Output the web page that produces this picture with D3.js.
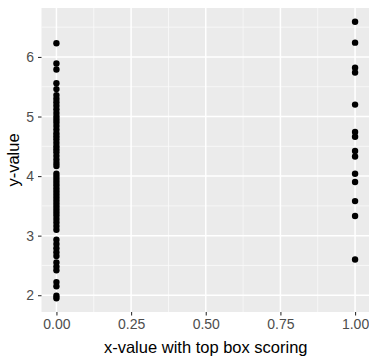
<!DOCTYPE html>
<html>
<head>
<meta charset="utf-8">
<script src="https://cdn.jsdelivr.net/npm/d3@7"></script>
<style>
	html, body { margin: 0; padding: 0; background: #fff; overflow: hidden; }
	svg { display: block; font-family: "Liberation Sans", Arial, sans-serif; }
</style>
</head>
<body>
<svg id="chart" width="369" height="360"></svg>
<script>

// values at x = 0 (they overlap into a bar)
var groupZero = [
	6.23, 5.89, 5.79, 5.56, 5.46, 5.36, 5.30, 5.24, 5.18, 5.12, 5.06, 5.00,
	4.95, 4.90, 4.84, 4.78, 4.72, 4.67, 4.62, 4.56, 4.50, 4.45, 4.40, 4.34,
	4.28, 4.22, 4.17, 4.04, 3.99, 3.94, 3.89, 3.84, 3.79, 3.74, 3.69, 3.64,
	3.59, 3.54, 3.49, 3.44, 3.39, 3.34, 3.28, 3.22, 3.16, 3.10, 2.93, 2.86,
	2.79, 2.72, 2.66, 2.55, 2.48, 2.42, 2.22, 2.15, 1.99, 1.95
];

// values at x = 1
var groupOne = [
	6.59, 6.24, 5.82, 5.74, 5.20, 4.74, 4.66, 4.42, 4.33, 4.04, 3.90, 3.58,
	3.33, 2.60
];

var xTicks = [0, 0.25, 0.5, 0.75, 1];
var yTicks = [2, 3, 4, 5, 6];

var xTitle = 'x-value with top box scoring';
var yTitle = 'y-value';

var config = {
	panel: {left: 41.5, top: 8, right: 370, bottom: 312},
	radius: 3.2,
	expand: 0.05
};

var points = [];
groupZero.forEach(function(v){ points.push({x: 0, y: v}); });
groupOne.forEach(function(v){ points.push({x: 1, y: v}); });

var xExt = d3.extent(points, function(d){ return d.x; }),
	yExt = d3.extent(points, function(d){ return d.y; }),
	xPad = (xExt[1] - xExt[0]) * config.expand,
	yPad = (yExt[1] - yExt[0]) * config.expand;

var x = d3.scaleLinear()
	.domain([xExt[0] - xPad, xExt[1] + xPad])
	.range([config.panel.left, config.panel.right]);

var y = d3.scaleLinear()
	.domain([yExt[0] - yPad, yExt[1] + yPad])
	.range([config.panel.bottom, config.panel.top]);

var svg = d3.select('#chart');

svg.append('rect')
	.attr('x', config.panel.left)
	.attr('y', config.panel.top)
	.attr('width', config.panel.right - config.panel.left)
	.attr('height', config.panel.bottom - config.panel.top)
	.attr('fill', '#ebebeb');

// minor grid halfway between breaks
var xMinor = d3.pairs(xTicks).map(function(p){ return (p[0] + p[1]) / 2; }),
	yMinor = d3.pairs(yTicks).map(function(p){ return (p[0] + p[1]) / 2; });
xMinor.push(1.125);
yMinor.unshift(1.5);
yMinor.push(6.5);

var grid = svg.append('g').attr('class', 'grid');

grid.selectAll('line.xminor').data(xMinor)
	.enter().append('line')
	.attr('class', 'xminor')
	.attr('x1', function(d){ return x(d); })
	.attr('x2', function(d){ return x(d); })
	.attr('y1', config.panel.top)
	.attr('y2', config.panel.bottom)
	.attr('stroke', '#fafafa')
	.attr('stroke-width', 0.8);

grid.selectAll('line.yminor').data(yMinor.filter(function(d){ return d > y.domain()[0] && d < y.domain()[1]; }))
	.enter().append('line')
	.attr('class', 'yminor')
	.attr('x1', config.panel.left)
	.attr('x2', config.panel.right)
	.attr('y1', function(d){ return y(d); })
	.attr('y2', function(d){ return y(d); })
	.attr('stroke', '#fafafa')
	.attr('stroke-width', 0.8);

grid.selectAll('line.xmajor').data(xTicks)
	.enter().append('line')
	.attr('class', 'xmajor')
	.attr('x1', function(d){ return x(d); })
	.attr('x2', function(d){ return x(d); })
	.attr('y1', config.panel.top)
	.attr('y2', config.panel.bottom)
	.attr('stroke', '#fff')
	.attr('stroke-width', 1.5);

grid.selectAll('line.ymajor').data(yTicks)
	.enter().append('line')
	.attr('class', 'ymajor')
	.attr('x1', config.panel.left)
	.attr('x2', config.panel.right)
	.attr('y1', function(d){ return y(d); })
	.attr('y2', function(d){ return y(d); })
	.attr('stroke', '#fff')
	.attr('stroke-width', 1.5);

// axes
var xAxis = d3.axisBottom(x)
	.tickValues(xTicks)
	.tickFormat(d3.format('.2f'))
	.tickSize(3.5)
	.tickPadding(4);

var yAxis = d3.axisLeft(y)
	.tickValues(yTicks)
	.tickFormat(d3.format('d'))
	.tickSize(3.5)
	.tickPadding(4);

var gx = svg.append('g')
	.attr('transform', 'translate(0,' + config.panel.bottom + ')')
	.call(xAxis);

var gy = svg.append('g')
	.attr('transform', 'translate(' + config.panel.left + ',0)')
	.call(yAxis);

[gx, gy].forEach(function(g)
{
	g.select('.domain').remove();
	g.selectAll('.tick line').attr('stroke', '#333').attr('stroke-width', 1.1);
	g.selectAll('.tick text')
		.attr('fill', '#4d4d4d')
		.style('font-size', '14px');
});

// points
svg.append('g')
	.selectAll('circle')
	.data(points)
	.enter().append('circle')
	.attr('cx', function(d){ return x(d.x); })
	.attr('cy', function(d){ return y(d.y); })
	.attr('r', config.radius)
	.attr('fill', '#000');

// titles
svg.append('text')
	.attr('x', (config.panel.left + config.panel.right) / 2)
	.attr('y', 353)
	.attr('text-anchor', 'middle')
	.style('font-size', '16.5px')
	.attr('fill', '#000')
	.text(xTitle);

svg.append('text')
	.attr('transform', 'translate(19,' + ((config.panel.top + config.panel.bottom) / 2) + ') rotate(-90)')
	.attr('text-anchor', 'middle')
	.style('font-size', '16.5px')
	.attr('fill', '#000')
	.text(yTitle);

</script>
</body>
</html>
